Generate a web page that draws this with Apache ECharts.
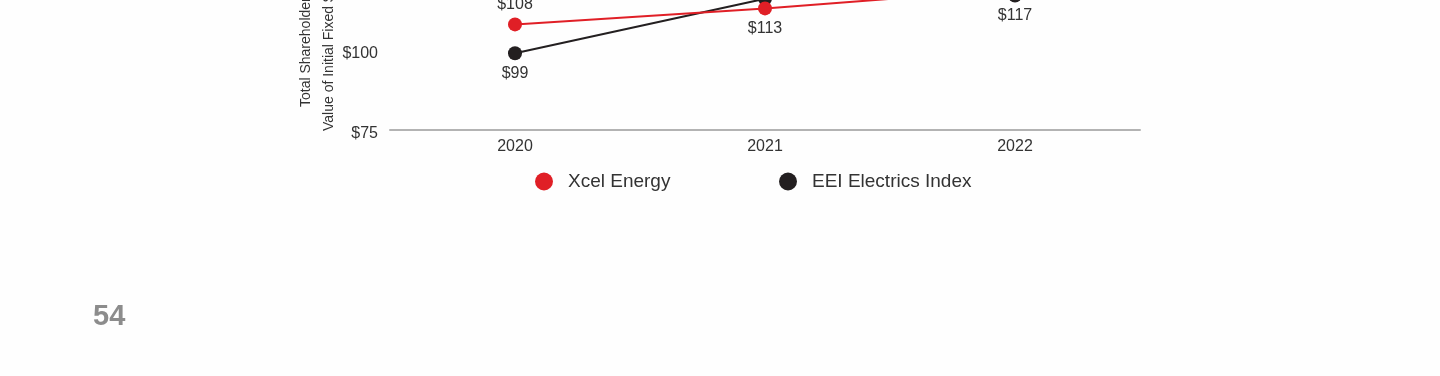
<!DOCTYPE html>
<html>
<head>
<meta charset="utf-8">
<script src="https://cdn.jsdelivr.net/npm/echarts@6/dist/echarts.min.js"></script>
<style>
  html, body { margin: 0; padding: 0; background: #fefefe; overflow: hidden; }
  #wrap { position: relative; width: 1440px; height: 376px; overflow: hidden; }
  /* the chart is taller than the window and shifted up: its top is cut off like the reference */
  #chart-tsr { position: absolute; left: 0; top: -200px; width: 1440px; height: 576px; }
</style>
</head>
<body>
<div id="wrap"><div id="chart-tsr"></div></div>
<script>
var years = ['2020', '2021', '2022'];
var xcelValues = [108, 113, 119];
var eeiValues = [99, 116, 117];
var xcelLabelPos = ['top', 'bottom', 'top'];
var eeiLabelPos = ['bottom', 'top', 'bottom'];
var yMin = 75, yMax = 175, yStep = 25;

var OFF = 200; // vertical shift of the chart div
var font = 'Liberation Sans, Arial, sans-serif';

function withLabels(values, positions) {
  return values.map(function (v, i) {
    return { value: v, label: { position: positions[i] } };
  });
}

var dom = document.getElementById('chart-tsr');
var myChart = echarts.init(dom, null, { renderer: 'canvas' });

var legendText = { fontSize: 19, color: '#333', fontFamily: font, padding: [0, 0, 0, 10] };

var option = {
  animation: false,
  backgroundColor: '#fefefe',
  textStyle: { fontFamily: font },
  grid: { left: 390, right: 300, top: 10, bottom: 246 },
  legend: [
    {
      left: 535, top: 172 + OFF, padding: 0,
      icon: 'circle', itemWidth: 18, itemHeight: 18,
      data: ['Xcel Energy'],
      textStyle: legendText
    },
    {
      left: 779, top: 172 + OFF, padding: 0,
      icon: 'circle', itemWidth: 18, itemHeight: 18,
      data: ['EEI Electrics Index'],
      textStyle: legendText
    }
  ],
  xAxis: {
    type: 'category',
    data: years,
    axisLine: { lineStyle: { color: '#b3b3b3', width: 2 } },
    axisTick: { show: false },
    axisLabel: { color: '#333', fontSize: 16, margin: 9, fontFamily: font }
  },
  yAxis: {
    type: 'value',
    min: yMin, max: yMax, interval: yStep,
    axisLine: { show: false },
    axisTick: { show: false },
    splitLine: { show: false },
    axisLabel: {
      margin: 12,
      formatter: '{v|${value}}',
      rich: {
        v: { color: '#333', fontSize: 16, fontFamily: font, padding: [8, 0, 0, 0] }
      }
    }
  },
  graphic: [
    {
      type: 'text', x: 306, y: 107 + OFF, rotation: Math.PI / 2,
      style: { text: 'Total Shareholder Return', fill: '#333', fontSize: 14, fontFamily: font,
               textAlign: 'left', textVerticalAlign: 'middle' }
    },
    {
      type: 'text', x: 329, y: 131 + OFF, rotation: Math.PI / 2,
      style: { text: 'Value of Initial Fixed $100 Investment', fill: '#333', fontSize: 14, fontFamily: font,
               textAlign: 'left', textVerticalAlign: 'middle' }
    },
    {
      type: 'text', x: 93, y: 317 + OFF,
      style: { text: '54', fill: '#8c8c8c', fontSize: 29, fontWeight: 'bold', fontFamily: font,
               textAlign: 'left', textVerticalAlign: 'middle' }
    }
  ],
  series: [
    {
      name: 'EEI Electrics Index',
      type: 'line',
      data: withLabels(eeiValues, eeiLabelPos),
      symbol: 'circle', symbolSize: 14,
      itemStyle: { color: '#231f20' },
      lineStyle: { color: '#231f20', width: 2 },
      label: { show: true, color: '#333', fontSize: 16, fontFamily: font, formatter: '${c}' }
    },
    {
      name: 'Xcel Energy',
      type: 'line',
      data: withLabels(xcelValues, xcelLabelPos),
      symbol: 'circle', symbolSize: 14,
      itemStyle: { color: '#e01f26' },
      lineStyle: { color: '#e01f26', width: 2 },
      label: { show: true, color: '#333', fontSize: 16, fontFamily: font, formatter: '${c}' }
    }
  ]
};

myChart.setOption(option);
window.addEventListener('resize', myChart.resize);
</script>
</body>
</html>
